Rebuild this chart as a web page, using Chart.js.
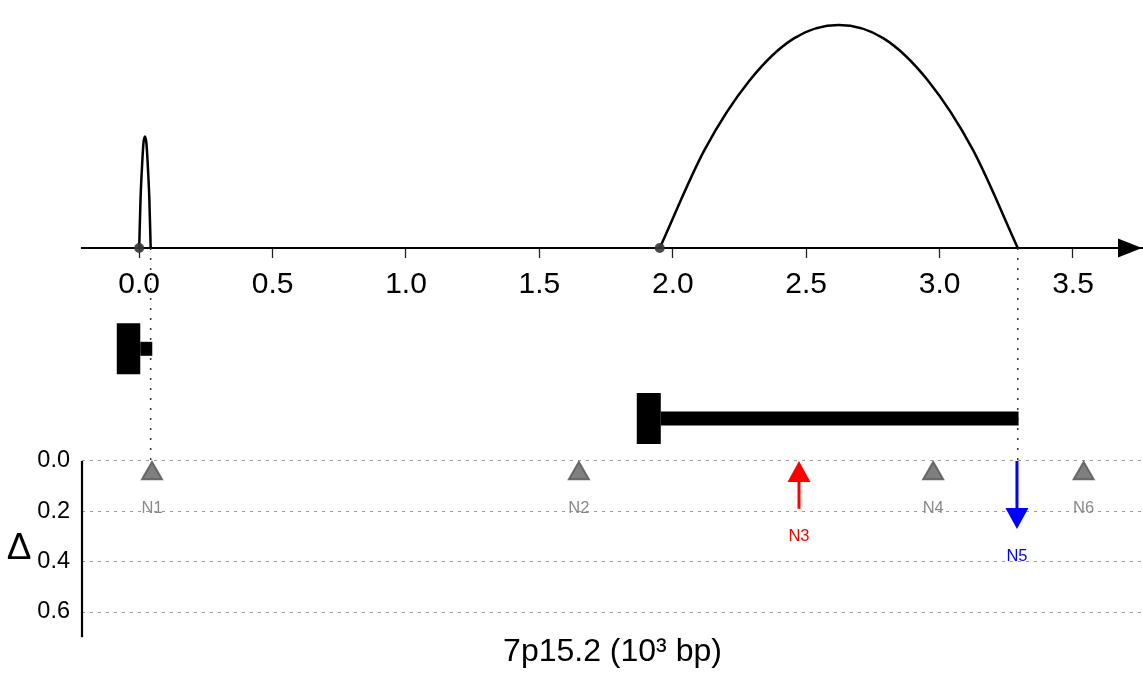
<!DOCTYPE html>
<html>
<head>
<meta charset="utf-8">
<script src="https://cdn.jsdelivr.net/npm/chart.js@4/dist/chart.umd.min.js"></script>
<style>
  html, body { margin: 0; padding: 0; background: #fff; }
  #wrap { width: 1143px; height: 674px; }
</style>
</head>
<body>
<div id="wrap"><canvas id="chart"></canvas></div>
<script>
// axis ticks
const xTicks = [0.0, 0.5, 1.0, 1.5, 2.0, 2.5, 3.0, 3.5];
const deltaTicks = [0.0, 0.2, 0.4, 0.6];

// arcs above the axis
const arc1X = [0.0, 0.005, 0.011, 0.016, 0.0215, 0.027, 0.032, 0.038, 0.043];
const arc1Y = [0.0, 0.22, 0.375, 0.47, 0.5, 0.47, 0.375, 0.22, 0.0];
const arc2X = [1.951, 2.119, 2.287, 2.454, 2.622, 2.790, 2.957, 3.125, 3.293];
const arc2Y = [0.0, 0.44, 0.75, 0.94, 1.0, 0.94, 0.75, 0.44, 0.0];
const arcStarts = [0.0, 1.951];
const guideX = [0.043, 3.293];

// gene blocks below the axis
const geneLevel = [-0.452, -0.765];
const geneCapStart = [-0.084, 1.865];
const geneStart = [0.004, 1.955];
const geneEnd = [0.049, 3.296];

// markers in the delta panel
const markNames = ["N1", "N2", "N3", "N4", "N5", "N6"];
const markPos = [0.048, 1.648, 2.473, 2.976, 3.290, 3.540];
const markDelta = [0, 0, 0.19, 0, -0.27, 0];

const xMin = -0.2144, xMax = 3.7624;
const guideBottom = -0.955;

Chart.defaults.font.family = "'Liberation Sans', Arial, sans-serif";
Chart.defaults.color = "#000";

const pts = (xs, ys) => xs.map((x, i) => ({ x: x, y: ys[i] }));

const datasets = [];

// arc start dots
datasets.push({
   data: arcStarts.map(x => ({ x: x, y: 0 })),
   yAxisID: "yT",
   showLine: false,
   pointRadius: 5,
   pointBackgroundColor: "rgba(55,55,55,0.9)",
   pointBorderWidth: 0,
   order: 1
});

// arcs
[[arc1X, arc1Y], [arc2X, arc2Y]].forEach(a => {
   datasets.push({
      data: pts(a[0], a[1]),
      yAxisID: "yT",
      showLine: true,
      borderColor: "#000",
      borderWidth: 2.5,
      pointRadius: 0,
      cubicInterpolationMode: "monotone",
      order: 2
   });
});

// gene blocks: thick cap + bar
geneLevel.forEach((lv, i) => {
   datasets.push({
      data: [{ x: geneCapStart[i], y: lv }, { x: geneStart[i], y: lv }],
      yAxisID: "yT",
      showLine: true,
      borderColor: "#000",
      borderWidth: 51,
      borderCapStyle: "butt",
      pointRadius: 0,
      order: 3
   });
   datasets.push({
      data: [{ x: geneStart[i], y: lv }, { x: geneEnd[i], y: lv }],
      yAxisID: "yT",
      showLine: true,
      borderColor: "#000",
      borderWidth: 14,
      borderCapStyle: "butt",
      pointRadius: 0,
      order: 3
   });
});

// dotted guide lines
guideX.forEach(x => {
   datasets.push({
      data: [{ x: x, y: 0 }, { x: x, y: guideBottom }],
      yAxisID: "yT",
      showLine: true,
      borderColor: "#333",
      borderWidth: 1.5,
      borderDash: [2, 8],
      pointRadius: 0,
      order: 4
   });
});

// unchanged markers (grey triangles)
datasets.push({
   data: markPos.filter((p, i) => markDelta[i] === 0).map(p => ({ x: p, y: 0.05 })),
   yAxisID: "yD",
   showLine: false,
   pointStyle: "triangle",
   pointRadius: 11.5,
   pointBackgroundColor: "rgba(95,95,95,0.8)",
   pointBorderColor: "rgba(95,95,95,0.9)",
   pointBorderWidth: 2,
   order: 1
});

const extras = {
   id: "extras",
   afterDatasetsDraw(chart) {
      const ctx = chart.ctx;
      const xs = chart.scales.x, yT = chart.scales.yT, yD = chart.scales.yD;
      const area = chart.chartArea;
      ctx.save();

      // arrow head on the position axis
      const ay = yT.getPixelForValue(0);
      ctx.fillStyle = "#000";
      ctx.beginPath();
      ctx.moveTo(area.right - 1, ay);
      ctx.lineTo(area.right - 25, ay - 9.5);
      ctx.lineTo(area.right - 25, ay + 9.5);
      ctx.closePath();
      ctx.fill();

      // delta axis line
      ctx.strokeStyle = "#000";
      ctx.lineWidth = 2.2;
      ctx.beginPath();
      ctx.moveTo(area.left, yD.getPixelForValue(0));
      ctx.lineTo(area.left, yD.getPixelForValue(0.7));
      ctx.stroke();

      // arrows and labels
      ctx.font = "16.5px 'Liberation Sans', Arial, sans-serif";
      ctx.textAlign = "center";
      ctx.textBaseline = "middle";
      markNames.forEach((name, i) => {
         const px = xs.getPixelForValue(markPos[i]);
         const d = markDelta[i];
         const y0 = yD.getPixelForValue(0);
         let color = "#888";
         let bottom = y0 + 19;
         if (d !== 0) {
            color = d > 0 ? "#ff0000" : "#0000ff";
            const yEnd = yD.getPixelForValue(Math.abs(d));
            const tail = d > 0 ? yEnd : y0;
            const tip = d > 0 ? y0 : yEnd;
            const dir = Math.sign(tip - tail);
            ctx.strokeStyle = color;
            ctx.lineWidth = 3;
            ctx.beginPath();
            ctx.moveTo(px, tail);
            ctx.lineTo(px, tip - dir * 20);
            ctx.stroke();
            ctx.fillStyle = color;
            ctx.beginPath();
            ctx.moveTo(px, tip);
            ctx.lineTo(px - 11.5, tip - dir * 21);
            ctx.lineTo(px + 11.5, tip - dir * 21);
            ctx.closePath();
            ctx.fill();
            bottom = yEnd;
         }
         ctx.fillStyle = color;
         ctx.fillText(name, px, bottom + 28);
      });

      // delta symbol
      ctx.fillStyle = "#000";
      ctx.font = "37px 'Liberation Sans', Arial, sans-serif";
      ctx.fillText("\u0394", 19, yD.getPixelForValue(0.35));

      // position axis title
      ctx.font = "32px 'Liberation Sans', Arial, sans-serif";
      ctx.fillText("7p15.2 (10\u00b3 bp)", (area.left + area.right) / 2, 652);
      ctx.restore();
   }
};

new Chart(document.getElementById("chart"), {
   type: "scatter",
   data: { datasets: datasets },
   options: {
      responsive: true,
      maintainAspectRatio: false,
      animation: false,
      layout: { padding: 0, autoPadding: false },
      plugins: { legend: { display: false }, tooltip: { enabled: false } },
      scales: {
         x: {
            type: "linear",
            min: xMin,
            max: xMax,
            bounds: "data",
            position: { yT: 0 },
            afterFit: s => { s.height = 0; s.paddingLeft = 0; s.paddingRight = 0; s.paddingTop = 0; s.paddingBottom = 0; },
            afterBuildTicks: s => { s.ticks = xTicks.map(v => ({ value: v })); },
            grid: { drawOnChartArea: false, drawTicks: true, tickLength: 9, tickColor: "#222", tickWidth: 1.3 },
            border: { display: true, color: "#000", width: 2 },
            ticks: {
               padding: 10,
               color: "#000",
               autoSkip: false,
               maxRotation: 0,
               font: { size: 30 },
               callback: v => v.toFixed(1)
            }
         },
         yT: {
            axis: "y",
            type: "linear",
            display: false,
            min: -1.9103,
            max: 1.1121
         },
         yD: {
            axis: "y",
            type: "linear",
            position: "left",
            reverse: true,
            min: -1.8316,
            max: 0.8463,
            bounds: "data",
            afterFit: s => { s.width = 82; s.paddingLeft = 0; s.paddingRight = 0; s.paddingTop = 0; s.paddingBottom = 0; },
            afterBuildTicks: s => { s.ticks = deltaTicks.map(v => ({ value: v })); },
            grid: { color: "#999", lineWidth: 1, drawTicks: false },
            border: { display: false, dash: [3, 5] },
            ticks: {
               padding: 12,
               color: "#000",
               font: { size: 23.5 },
               callback: v => v.toFixed(1)
            }
         }
      }
   },
   plugins: [extras]
});
</script>
</body>
</html>
